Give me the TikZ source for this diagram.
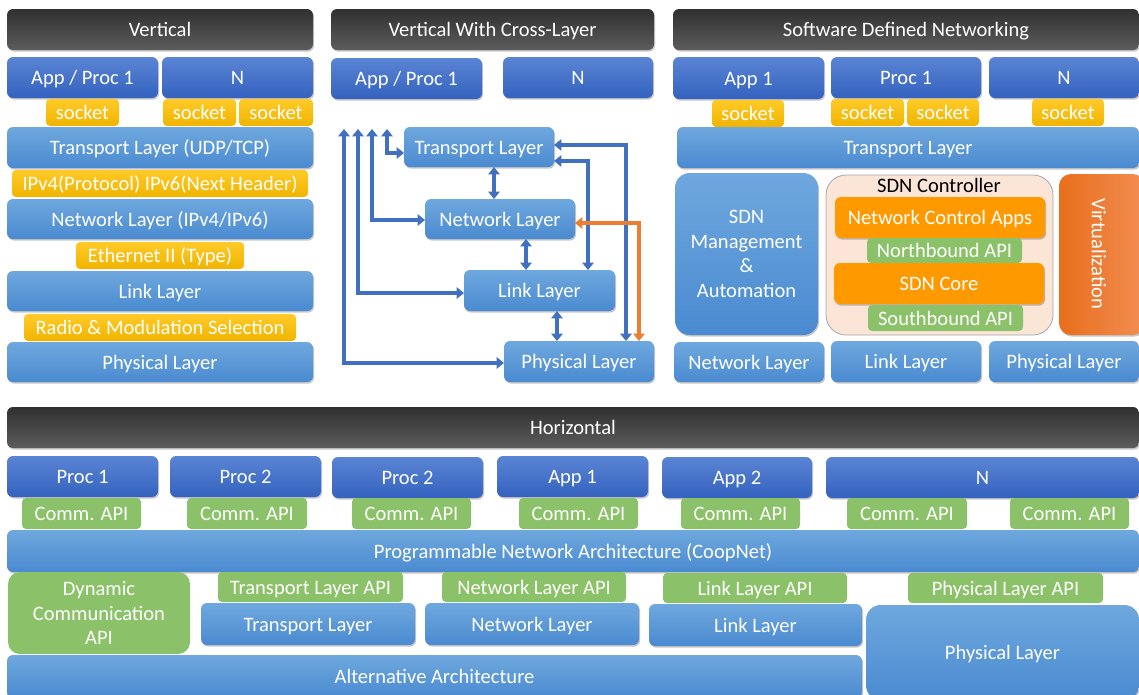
\documentclass[tikz,border=0pt]{standalone}
\usepackage{fontspec}
\setmainfont{Carlito}
\usetikzlibrary{arrows.meta,shadows}
\definecolor{tdark}{HTML}{303030}
\definecolor{tlight}{HTML}{5C5C5C}
\definecolor{appT}{HTML}{5A84D4}
\definecolor{appB}{HTML}{3462BE}
\definecolor{layT}{HTML}{6FA8DE}
\definecolor{layB}{HTML}{4A8AD0}
\definecolor{sockT}{HTML}{FFCA28}
\definecolor{sockB}{HTML}{F0B400}
\definecolor{apigreen}{HTML}{8BC168}
\definecolor{orng}{HTML}{FF9900}
\definecolor{virL}{HTML}{E86E1C}
\definecolor{virR}{HTML}{F28E52}
\definecolor{ctrlfill}{HTML}{FBE5D6}
\definecolor{ctrldraw}{HTML}{A6A6A6}
\definecolor{arrblue}{HTML}{4270C0}
\definecolor{arrorange}{HTML}{ED7D31}
\tikzset{
  base/.style={inner sep=0pt, outer sep=0pt, text=white,
    font=\fontsize{15.4}{18.6}\selectfont, align=center, rounded corners=4.5pt},
  one/.style={text height=10.5pt, text depth=0pt},
  shad/.style={drop shadow={shadow xshift=0.8pt, shadow yshift=-1.2pt, opacity=0.22, fill=black}},
  fTitle/.style={top color=tdark, bottom color=tlight},
  fApp/.style={top color=appT, bottom color=appB},
  fLayer/.style={top color=layT, bottom color=layB},
  fSock/.style={top color=sockT, bottom color=sockB, rounded corners=3pt},
  fApi/.style={fill=apigreen, rounded corners=3pt},
  title/.style={base, one, shad, fTitle},
  app/.style={base, one, shad, fApp},
  layer/.style={base, one, shad, fLayer},
  sock/.style={base, one, fSock},
  api/.style={base, one, fApi},
  orangebox/.style={base, one, shad, fill=orng},
  ctrl/.style={base, fill=ctrlfill, draw=ctrldraw, line width=0.6pt, rounded corners=15pt},
  virt/.style={base, shad, left color=virL, right color=virR, rounded corners=9pt},
  barrow/.style={draw=arrblue, line width=3.2pt, {Triangle[width=8.5pt,length=5.5pt]}-{Triangle[width=8.5pt,length=5.5pt]}},
  oarrow/.style={draw=arrorange, line width=3.2pt, {Triangle[width=8.5pt,length=5.5pt]}-{Triangle[width=8.5pt,length=5.5pt]}},
}
\newcommand{\bx}[7]{\node[#1, minimum width={(#5-#3)*0.75pt}, minimum height={(#6-#4)*0.75pt}] (#2) at ({(#3+#5)/2},{(#4+#6)/2}) {#7};}
\begin{document}
\begin{tikzpicture}[x=0.75pt,y=-0.75pt]
\useasboundingbox (0,0) rectangle (1139,694);
\clip (0,0) rectangle (1139,694);
% ---------------- Vertical
\bx{title}{vT}{7}{9}{313}{50}{Vertical}
\bx{app}{vA}{7}{57}{158}{98}{App / Proc 1}
\bx{app}{vN}{162}{57}{313}{98}{N}
\bx{sock}{vS1}{46}{99}{119}{126}{socket}
\bx{sock}{vS2}{163}{99}{236}{126}{socket}
\bx{sock}{vS3}{239}{99}{313}{126}{socket}
\bx{layer}{vTr}{7}{127}{313}{168}{Transport Layer (UDP/TCP)}
\bx{sock}{vIP}{12}{170}{308}{197}{IPv4(Protocol) IPv6(Next Header)}
\bx{layer}{vNw}{7}{199}{313}{239}{Network Layer (IPv4/IPv6)}
\bx{sock}{vEth}{76}{242}{244}{269}{Ethernet II (Type)}
\bx{layer}{vLk}{7}{271}{313}{311}{Link Layer}
\bx{sock}{vRad}{24}{314}{296}{341}{Radio \& Modulation Selection}
\bx{layer}{vPh}{7}{342}{313}{382}{Physical Layer}
% ---------------- Vertical with cross-layer
\bx{title}{cT}{331}{9}{654}{50}{Vertical With Cross-Layer}
\bx{app}{cA}{331}{58}{482}{99}{App / Proc 1}
\bx{app}{cN}{503}{57}{653}{98}{N}
\bx{layer}{ct}{404}{127}{554}{167}{Transport Layer}
\bx{layer}{cn}{425}{199}{575}{239}{Network Layer}
\bx{layer}{cl}{464}{270}{615}{311}{Link Layer}
\bx{layer}{cp}{504}{341}{654}{382}{Physical Layer}
\coordinate (u1) at (344,129);
\coordinate (u2) at (358,129);
\coordinate (u3) at (372,129);
\coordinate (u4) at (387,129);
\draw[barrow] (u4) |- ([yshift=-4.5pt]ct.west);
\draw[barrow] (u3) |- ([yshift=-0.75pt]cn.west);
\draw[barrow] (u2) |- ([yshift=-1.9pt]cl.west);
\draw[barrow] (u1) |- ([yshift=-1.1pt]cp.west);
\draw[barrow] ([xshift=11.25pt]ct.south) -- ([xshift=-4.5pt]cn.north);
\draw[barrow] ([xshift=19.5pt]cn.south) -- ([xshift=-10.125pt]cl.north);
\draw[barrow] ([xshift=13.125pt]cl.south) -- ([xshift=-16.5pt]cp.north);
\draw[barrow] ([yshift=1.5pt]ct.east) -| ([xshift=35.25pt]cp.north);
\draw[barrow] ([yshift=-10.5pt]ct.east) -| ([xshift=36.4pt]cl.north);
\draw[oarrow] ([yshift=-3pt]cn.east) -| ([xshift=45pt]cp.north);
% ---------------- SDN
\bx{title}{sT}{673}{9}{1139}{50}{Software Defined Networking}
\bx{app}{sA}{673}{57}{824}{99}{App 1}
\bx{app}{sP}{831}{57}{981}{98}{Proc 1}
\bx{app}{sN}{989}{57}{1139}{98}{N}
\bx{sock}{sS1}{712}{100}{784}{127}{socket}
\bx{sock}{sS2}{831}{99}{904}{126}{socket}
\bx{sock}{sS3}{907}{99}{979}{126}{socket}
\bx{sock}{sS4}{1032}{99}{1104}{126}{socket}
\bx{layer}{sTr}{677}{127}{1139}{168}{Transport Layer}
\bx{base, shad, fLayer, rounded corners=11pt}{sM}{675}{173}{818}{335}{SDN\\Management\\\&\\Automation}
\bx{ctrl}{sC}{826}{175}{1053}{335}{}
\node[font=\fontsize{15.4}{18}\selectfont, text=black, inner sep=0pt] (sCl) at (939,185) {SDN Controller};
\bx{orangebox}{sNCA}{835}{197}{1045}{238}{Network Control Apps}
\bx{api}{sNB}{867}{238}{1022}{263}{Northbound API}
\bx{orangebox}{sCore}{834}{263}{1044}{304}{SDN Core}
\bx{api}{sSB}{868}{305}{1023}{331}{Southbound API}
\bx{virt}{sV}{1059}{174}{1145}{335}{}
\node[rotate=-90, text=white, font=\fontsize{15.4}{18}\selectfont, inner sep=0pt] (sVl) at (1099,254) {Virtualization};
\bx{layer}{sNw}{674}{342}{824}{382}{Network Layer}
\bx{layer}{sLk}{831}{341}{981}{382}{Link Layer}
\bx{layer}{sPh}{989}{341}{1139}{382}{Physical Layer}
% ---------------- Horizontal
\bx{title}{hT}{7}{407}{1139}{448}{Horizontal}
\bx{app}{hP1}{7}{456}{158}{497}{Proc 1}
\bx{app}{hP2}{170}{456}{321}{497}{Proc 2}
\bx{app}{hP3}{332}{457}{483}{498}{Proc 2}
\bx{app}{hA1}{497}{456}{648}{497}{App 1}
\bx{app}{hA2}{662}{457}{812}{498}{App 2}
\bx{app}{hN}{826}{457}{1139}{498}{N}
\bx{api}{hC1}{22}{498}{141}{529}{Comm. API}
\bx{api}{hC2}{187}{498}{307}{529}{Comm. API}
\bx{api}{hC3}{352}{498}{471}{529}{Comm. API}
\bx{api}{hC4}{519}{498}{638}{529}{Comm. API}
\bx{api}{hC5}{681}{498}{800}{529}{Comm. API}
\bx{api}{hC6}{847}{498}{967}{529}{Comm. API}
\bx{api}{hC7}{1010}{498}{1129}{529}{Comm. API}
\bx{layer}{hPNA}{7}{530}{1139}{572}{Programmable Network Architecture (CoopNet)}
\bx{base, fApi, rounded corners=9pt}{hDyn}{8}{572}{190}{654}{Dynamic\\Communication\\API}
\bx{api}{hTA}{218}{572}{403}{602}{Transport Layer API}
\bx{api}{hNA}{442}{572}{626}{602}{Network Layer API}
\bx{api}{hLA}{663}{573}{847}{603}{Link Layer API}
\bx{api}{hPA}{908}{573}{1103}{603}{Physical Layer API}
\bx{layer}{hTL}{201}{603}{415}{645}{Transport Layer}
\bx{layer}{hNL}{425}{603}{639}{645}{Network Layer}
\bx{layer}{hLL}{649}{604}{862}{646}{Link Layer}
\bx{layer, rounded corners=11pt}{hPL}{866}{605}{1139}{700}{Physical Layer}
\bx{layer}{hAA}{7}{655}{862}{698}{Alternative Architecture}
\end{tikzpicture}
\end{document}
